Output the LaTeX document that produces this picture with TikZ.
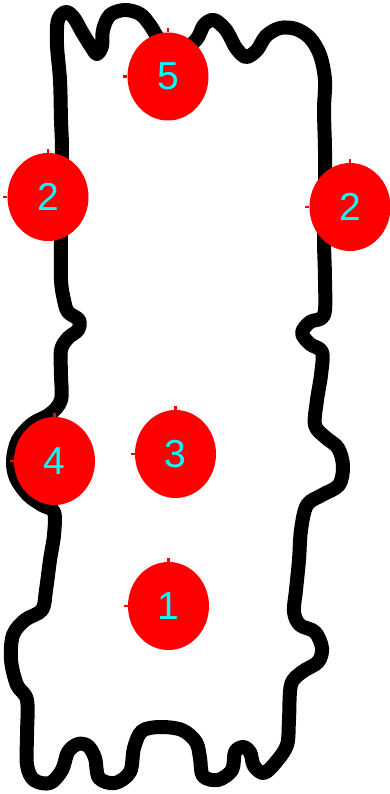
\documentclass[tikz,border=0pt]{standalone}
\usepackage{fontspec}
\setmainfont{Liberation Sans}
\usetikzlibrary{shapes.geometric}
\definecolor{blobred}{RGB}{255,0,0}
\definecolor{numcyan}{RGB}{0,255,255}
\tikzset{
  outline/.style={draw=black, line width=14pt, line join=round, line cap=round},
  blob/.style={ellipse, fill=blobred, draw=none, minimum width=81pt, minimum height=88pt, inner sep=0pt,
    text=numcyan, font=\fontsize{39}{39}\selectfont},
  tickmark/.style={draw=blobred, line width=2.5pt}
}
\begin{document}
\begin{tikzpicture}[x=1pt,y=-1pt]
\useasboundingbox (0,0) rectangle (390,794);
\fill[white] (0,0) rectangle (390,794);
\draw[outline] plot[smooth cycle, tension=0.55] coordinates {
(58,20) (66,12) (74,18) (82,32) (92,48) (97,54) (102,46) (103,30) (110,15) (125,10) (140,14) (150,25) (160,40) (178,52) (196,40) (204,25) (214,20) (226,30) (236,48) (246,57) (257,50) (266,36) (280,28) (296,29) (310,38) (320,55) (325,80) (324,110) (325,150) (325,200) (324,240) (325,280) (324,315) (310,322) (302,333) (310,344) (322,352) (321,375) (317,400) (315,425) (325,437) (338,448) (343,466) (339,485) (322,495) (307,505) (301,530) (299,560) (296,590) (294,612) (300,625) (315,632) (322,648) (318,662) (302,672) (291,685) (289,720) (287,745) (276,762) (264,773) (254,766) (250,752) (243,747) (235,752) (232,770) (218,780) (203,776) (200,758) (196,742) (182,730) (160,727) (142,731) (134,748) (130,772) (115,783) (99,778) (95,758) (88,746) (78,744) (68,752) (62,770) (50,783) (34,780) (27,765) (27,735) (27,700) (17,685) (11,660) (13,635) (25,620) (42,610) (46,590) (50,560) (54,535) (54,512) (42,505) (28,495) (16,478) (13,460) (18,440) (32,424) (50,414) (61,400) (61,375) (61,350) (68,338) (78,330) (79,320) (68,312) (64,300) (61,280) (61,240) (61,200) (62,150) (61,120) (60,80) (57,45)
};
\node[blob] (c5) at (168,76.5) {5};
\node[blob] (c2l) at (48,197) {2};
\node[blob] (c2r) at (350,207) {2};
\node[blob] (c4) at (54.5,461) {4};
\node[blob] (c3) at (175.5,454) {3};
\node[blob] (c1) at (168.5,606) {1};
\foreach \c in {c5,c2l,c2r,c4,c3,c1}{
  \draw[tickmark] (\c.north) -- ++(0,-4);
  \draw[tickmark] (\c.west) -- ++(-4,0);
}
\end{tikzpicture}
\end{document}
